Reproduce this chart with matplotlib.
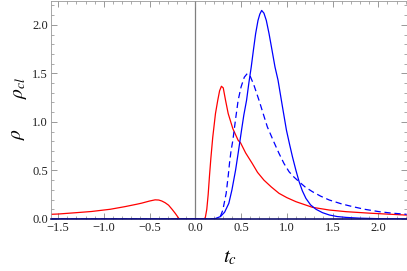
import matplotlib
matplotlib.use('Agg')
import matplotlib.pyplot as plt
from matplotlib.ticker import MultipleLocator

plt.rcParams['font.family'] = ['Liberation Serif', 'DejaVu Serif']
plt.rcParams['mathtext.fontset'] = 'stix'

# values
red_x = [-1.58, -1.50, -1.30, -1.136, -0.93, -0.77, -0.64, -0.587, -0.50, -0.44, -0.40,
         -0.367, -0.33, -0.293, -0.255, -0.22, -0.195, -0.176, 0.10, 0.11, 0.125, 0.14,
         0.155, 0.17, 0.19, 0.22, 0.245, 0.265, 0.285, 0.305, 0.33, 0.359, 0.41, 0.468,
         0.494, 0.55, 0.622, 0.68, 0.75, 0.83, 0.915, 1.00, 1.10, 1.28, 1.465, 1.65, 1.90,
         2.10, 2.31]
red_y = [0.048, 0.051, 0.065, 0.077, 0.10, 0.127, 0.152, 0.163, 0.185, 0.197, 0.195,
         0.185, 0.167, 0.142, 0.10, 0.058, 0.025, 0.0, 0.0, 0.02, 0.10, 0.25,
         0.45, 0.63, 0.84, 1.086, 1.223, 1.32, 1.367, 1.35, 1.223, 1.086, 0.93, 0.81,
         0.785, 0.68, 0.572, 0.48, 0.40, 0.33, 0.264, 0.22, 0.178, 0.12, 0.092, 0.075, 0.06,
         0.05, 0.04]

dash_x = [-1.58, 0.20, 0.24, 0.275, 0.30, 0.337, 0.36, 0.374, 0.39, 0.41, 0.44, 0.468,
          0.50, 0.535, 0.567, 0.60, 0.64, 0.696, 0.74, 0.787, 0.86, 0.915, 0.97, 1.025,
          1.08, 1.135, 1.20, 1.28, 1.37, 1.465, 1.60, 1.72, 1.85, 2.01, 2.15, 2.31]
dash_y = [0.0, 0.0, 0.005, 0.03, 0.09, 0.264, 0.45, 0.58, 0.70, 0.81, 1.03, 1.223,
          1.36, 1.46, 1.497, 1.47, 1.38, 1.223, 1.09, 0.949, 0.79, 0.675, 0.57, 0.486,
          0.43, 0.383, 0.33, 0.281, 0.235, 0.195, 0.155, 0.127, 0.10, 0.075, 0.06, 0.048]

solid_x = [-1.58, 0.15, 0.22, 0.275, 0.32, 0.366, 0.40, 0.44, 0.47, 0.505, 0.53, 0.56,
           0.585, 0.611, 0.635, 0.659, 0.685, 0.705, 0.725, 0.75, 0.776, 0.806, 0.84,
           0.871, 0.904, 0.95, 0.996, 1.03, 1.062, 1.10, 1.135, 1.17, 1.209, 1.26, 1.319,
           1.39, 1.465, 1.55, 1.65, 1.80, 2.00, 2.31]
solid_y = [0.0, 0.0, 0.005, 0.025, 0.07, 0.161, 0.30, 0.504, 0.69, 0.915, 1.07, 1.223,
           1.40, 1.565, 1.74, 1.908, 2.045, 2.11, 2.148, 2.12, 2.045, 1.908, 1.73,
           1.565, 1.43, 1.17, 0.915, 0.77, 0.64, 0.50, 0.383, 0.29, 0.212, 0.145, 0.10,
           0.065, 0.041, 0.025, 0.016, 0.008, 0.003, 0.0]

fig = plt.figure(figsize=(4.07, 2.71), dpi=100)
ax = fig.add_axes([0.125, 0.192, 0.874, 0.806])

ax.axvline(0, color='#7f7f7f', lw=0.9, zorder=1)
ax.plot(red_x, red_y, color='#ff0000', lw=0.9)
ax.plot(dash_x, dash_y, color='#0000ff', lw=0.9, dashes=(5, 3))
ax.plot(solid_x, solid_y, color='#0000ff', lw=0.9)

ax.set_xlim(-1.58, 2.31)
ax.set_ylim(0, 2.25)

ax.xaxis.set_major_locator(MultipleLocator(0.5))
ax.xaxis.set_minor_locator(MultipleLocator(0.1))
ax.yaxis.set_major_locator(MultipleLocator(0.5))
ax.yaxis.set_minor_locator(MultipleLocator(0.1))
ax.xaxis.set_major_formatter(plt.FuncFormatter(lambda v, p: ('%.1f' % v).replace('-', '\u2212')))
ax.yaxis.set_major_formatter(plt.FuncFormatter(lambda v, p: '%.1f' % v))
ax.tick_params(which='both', direction='in', top=True, right=True, color='#888888',
               labelsize=9, labelcolor='#222222', pad=2)
ax.tick_params(which='major', length=4, width=0.6)
ax.tick_params(which='minor', length=2.2, width=0.5)

for s in ['left', 'right', 'top']:
    ax.spines[s].set_color('#999999')
    ax.spines[s].set_linewidth(0.6)
ax.spines['bottom'].set_color('#101070')
ax.spines['bottom'].set_linewidth(1.2)

fig.text(0.565, 0.048, r'$t_c$', fontsize=15, ha='center', va='center')
fig.text(0.045, 0.505, r'$\rho$', fontsize=14, rotation=90, ha='center', va='center')
fig.text(0.05, 0.675, r'$\rho_{cl}$', fontsize=14, rotation=90, ha='center', va='center')

fig.savefig('out.png', dpi=100)
